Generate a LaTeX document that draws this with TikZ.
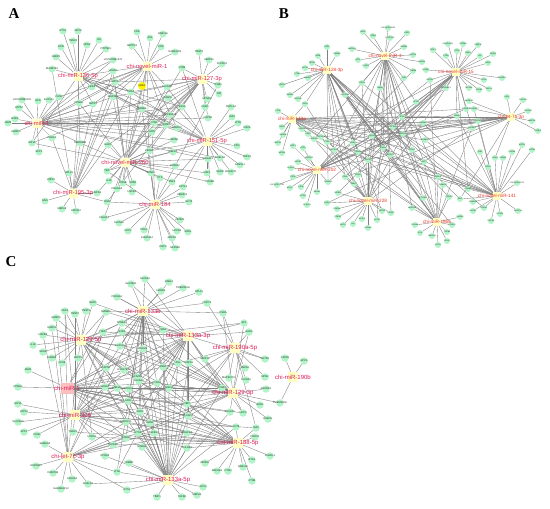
\documentclass[tikz,border=0pt]{standalone}
\usepackage{fontspec}
\setmainfont{Liberation Serif}
\setsansfont{Liberation Sans}
\pgfdeclarelayer{links}
\pgfsetlayers{links,main}
\definecolor{genefill}{RGB}{176,245,200}
\definecolor{hubfill}{RGB}{255,255,196}
\definecolor{hubpink}{RGB}{255,190,190}
\definecolor{mirA}{RGB}{226,34,88}
\definecolor{mirB}{RGB}{238,56,40}
\definecolor{mirC}{RGB}{222,24,86}
\tikzset{
  gene/.style={circle,fill=genefill,inner sep=0pt,minimum size=#1},
  gene/.default=7pt,
  gtext/.style={font=\sffamily\fontsize{#1}{#1}\selectfont,text=black!85,inner sep=0pt},
  gtext/.default=2.6,
  hub/.style={rectangle,fill=hubfill,inner sep=0pt,minimum size=#1},
  hub/.default=9pt,
  hubtext/.style={font=\sffamily\fontsize{#1}{#1}\selectfont,inner sep=0pt},
  link/.style={draw=black!50,line width=0.35pt},
  panel/.style={font=\rmfamily\bfseries\fontsize{15}{15}\selectfont,inner sep=0pt}
}
% target genes: name/x/y/hub/label
\def\genesA{ga1/63/31/a136/ETS1, ga2/78/31/a136/GPX4, ga3/73/41/a136/TNNC2,
	ga4/87/45/a136/NPR2, ga5/99/40/a136/IL6, ga6/106/49/a136/PITPNC1, ga7/61/47/a136/DCN,
	ga8/56/57/a136/FABP3, ga9/113/60/a136/LOC100861279, ga10/52/69/a136/RHOBTB1,
	ga11/113/71/a136/VEGFA, ga12/115/82/a136/MZT1, ga13/92/87/a136/HFE2,
	ga14/79/103/a136/PPARG, ga15/93/104/a136/SEPP1,
	ga16/137/32/anov1/FOS, ga17/150/38/anov1/ASL, ga18/163/34/anov1/RAB11A,
	ga19/161/47/anov1/CD9, ga20/132/46/anov1/ARPP19, ga21/175/52/anov1/RABGGTB,
	ga23/131/92/anov1/PDK4, ga24/167/87/anov1/SLC6A6, ga25/113/97/anov1/MAP3K1,
	ga26/142/109/anov1/MANBA,
	ga27/199/52/a127/TNNT3, ga28/209/60/a127/MMP14, ga29/222/64/a127/PLCXD2,
	ga30/182/68/a127/CTSB, ga31/218/85/a127/ITGB1, ga32/219/94/a127/GPI,
	ga33/207/99/a127/MFGE8, ga34/168/98/a127/ROBO1, ga35/182/107/a127/SOX6,
	ga36/205/107/a127/FASN, ga37/170/115/a127/SLC39A13, ga38/208/118/a127/CAPN1,
	ga39/22/100/a1/LOC100860191, ga40/19/108/a1/ATP5J, ga41/38/101/a1/SCD,
	ga42/49/100/a1/ELOVL1, ga43/59/97/a1/PLIN3, ga44/15/119/a1/RXRA, ga45/8/123/a1/JAM2,
	ga46/16/132/a1/IGFBP3, ga47/32/143/a1/HIF1A, ga48/52/138/a1/PDE1A,
	ga49/39/152/a1/SPP1, ga50/80/143/a1/TMEM38B,
	ga51/231/107/a151/PNPLA2, ga52/232/117/a151/IGF2, ga53/238/123/a151/LTN1,
	ga54/247/128/a151/KIF2A, ga55/237/146/a151/PID1, ga56/247/157/a151/ZNF24,
	ga57/240/165/a151/KANSL1, ga58/231/172/a151/B3GALT1, ga59/220/172/a151/SDHD,
	ga60/220/158/a151/DCBLD2, ga61/208/159/a151/SRGAP1, ga62/207/173/a151/HSF1,
	ga63/210/182/a151/FOXM1, ga64/154/123/a151/CTSK, ga65/177/128/a151/MARK3,
	ga66/166/125/a151/IQCB1,
	ga67/174/140/anov260/HSPA8, ga68/152/132/anov260/SON, ga69/108/145/anov260/GART,
	ga70/149/151/anov260/CIDEA, ga71/173/152/anov260/MEF2A, ga72/175/166/anov260/ROBO2,
	ga73/107/171/anov260/TBP, ga74/109/181/anov260/IL18, ga75/117/189/anov260/PRKAG3,
	ga76/123/183/anov260/KIF5B, ga77/133/183/anov260/LTBR, ga78/132/192/anov260/HSPB1,
	ga79/151/173/anov260/SPARC,
	ga80/69/173/a195/RPL21, ga81/51/180/a195/USP10, ga82/45/201/a195/GNS,
	ga83/62/209/a195/MED18, ga84/76/211/a195/HSPA13, ga85/97/193/a195/HSPG2,
	ga86/107/202/a195/OGN,
	ga87/160/178/a184/PTS, ga88/172/182/a184/ZNF3, ga89/183/187/a184/EXTL3,
	ga90/182/195/a184/UBE2D3, ga91/189/202/a184/ECT2, ga92/104/218/a184/COL6A1,
	ga93/119/223/a184/SLC5A6, ga94/128/231/a184/UCP2, ga95/144/230/a184/POLG,
	ga96/147/238/a184/KIAA1524, ga97/180/220/a184/ZBTB11, ga98/177/231/a184/UPK1B,
	ga99/188/232/a184/SOD1, ga100/172/238/a184/ABCD1, ga101/163/247/a184/PHC3,
	ga102/175/248/a184/GPR180}
\def\genesB{gb1/363/32/bnov4/LMO7, gb2/373/36/bnov4/ITGB5,
	gb3/388/28/bnov4/LOC102190008, gb4/390/38/bnov4/PPP1R3C, gb5/407/33/bnov4/USP2,
	gb6/404/47/bnov4/HMGB1, gb7/352/49/bnov4/MAP4K4, gb8/358/60/bnov4/IGF1,
	gb9/366/66/bnov4/PLOD3, gb10/413/55/bnov4/NUDT4, gb11/422/62/bnov4/RAB1A,
	gb12/413/71/bnov4/TUBB6, gb13/380/88/bnov4/GNB4, gb14/362/83/bnov4/SPRY1,
	gb15/404/78/bnov4/TLN2,
	gb16/327/47/b128/FZD1, gb17/337/54/b128/KDM5B, gb18/318/56/b128/NFIB,
	gb19/312/63/b128/TBX15, gb20/305/68/b128/KLF15, gb21/297/74/b128/CTSB,
	gb22/308/78/b128/NAMPT, gb23/282/85/b128/VEGFA, gb24/290/95/b128/SMAD6,
	gb25/298/99/b128/FBXO32, gb26/305/104/b128/CNN1, gb27/345/95/b128/SLC25A4,
	gb29/448/44/bnov15/ARHGAP11, gb30/463/44/bnov15/ATP2B1, gb31/478/45/bnov15/CEBPB,
	gb32/433/50/bnov15/GPX1, gb33/446/56/bnov15/PTEN, gb34/457/51/bnov15/ETV5,
	gb35/468/53/bnov15/NEK6, gb36/480/56/bnov15/LPL, gb37/493/54/bnov15/P4HA2,
	gb38/488/63/bnov15/DDX5, gb39/426/70/bnov15/RUNX1, gb40/430/80/bnov15/NCOA2,
	gb41/446/88/bnov15/EIF4EBP1, gb42/469/88/bnov15/MYO5A, gb43/479/90/bnov15/SPSB4,
	gb44/489/89/bnov15/RELL1, gb45/484/80/bnov15/BTLA, gb46/502/78/bnov15/TXNRD1,
	gb47/507/97/blet7a/IDH1, gb48/523/100/blet7a/COL4A1, gb49/528/111/blet7a/PDLIM1,
	gb50/532/121/blet7a/MRPS6, gb51/538/131/blet7a/TRIM71, gb52/469/101/blet7a/MAN1A2,
	gb53/474/109/blet7a/ARHGEF7, gb54/478/121/blet7a/GATM,
	gb55/278/111/b148/CTSK, gb56/282/127/b148/TNNT1, gb57/283/135/b148/HADHB,
	gb58/278/143/b148/MEF2C, gb59/282/153/b148/NDRG1, gb60/302/129/b148/ESRRG,
	gb61/308/134/b148/CDK6, gb62/314/139/b148/CSNK2A1, gb63/321/137/b148/PPP2CA,
	gb64/327/142/b148/CTGF,
	gb65/293/146/bnov202/SIRT1, gb66/303/148/bnov202/ATF4, gb67/334/150/bnov202/SLC2A1,
	gb68/309/158/bnov202/ARRDC3, gb69/298/162/bnov202/HSPB7, gb70/291/168/bnov202/KLHL40,
	gb71/293/177/bnov202/CD36, gb72/277/185/bnov202/LOC102179781, gb73/290/188/bnov202/MYH7,
	gb74/301/187/bnov202/CD34, gb75/303/196/bnov202/ACTA1, gb76/307/205/bnov202/KLHL41,
	gb77/317/192/bnov202/NR4A1, gb78/328/182/bnov202/PRKAB1,
	gb79/327/203/bnov228/FASN, gb80/337/209/bnov228/PPARA, gb81/338/217/bnov228/PDE4D,
	gb82/343/225/bnov228/MYF6, gb83/353/224/bnov228/IL6, gb84/362/219/bnov228/ACSL1,
	gb85/368/228/bnov228/HOXA9, gb86/377/220/bnov228/KLF10, gb87/382/211/bnov228/SFRP1,
	gb88/391/213/bnov228/FOXO1, gb89/345/177/bnov228/CD44, gb90/354/184/bnov228/BMP2,
	gb91/358/175/bnov228/ENO3, gb92/338/193/bnov228/IGFBP5,
	gb93/438/177/b186/TAGLN, gb94/443/185/b186/CAMK2D, gb95/449/197/b186/ATP1A2,
	gb96/423/198/b186/PTGS2, gb97/412/208/b186/MAP2K6, gb98/415/225/b186/EPHA4,
	gb99/420/233/b186/IL18, gb100/432/236/b186/HMGCR, gb101/447/232/b186/TGFB3,
	gb102/452/225/b186/FOXO3, gb103/447/241/b186/CDH2, gb104/438/245/b186/GCH1,
	gb105/460/217/b186/SMAD4,
	gb106/468/189/bnov141/CREB3, gb107/460/199/bnov141/SIK1, gb108/473/202/bnov141/ADAM10,
	gb109/473/211/bnov141/ACVR1, gb110/484/208/bnov141/EGLN1, gb111/491/221/bnov141/CAPN3,
	gb112/500/214/bnov141/FOXP1, gb113/518/211/bnov141/MAPK14,
	gb114/517/183/bnov141/LOC102180274, gb115/512/152/bnov141/FOXN3,
	gb116/522/145/bnov141/NFAT5, gb117/532/150/bnov141/KIF5B, gb118/495/158/bnov141/LDHA,
	gb119/503/158/bnov141/CAMK1, gb120/488/167/bnov141/GPD1,
	gb121/372/136/b148/RHOA, gb122/393/127/bnov4/ACTN2, gb123/403/134/bnov15/MSTN,
	gb124/412/150/b186/ITGA5, gb125/390/155/b128/PRKACA, gb126/358/152/b128/CEBPA,
	gb127/368/160/bnov228/SOCS3, gb128/402/117/bnov4/TCF4, gb129/416/102/bnov4/SCD5,
	gb130/423/123/blet7a/HMGA2, gb131/457/116/bnov15/NRAS, gb132/466/109/bnov15/IGF2BP2,
	gb133/472/128/blet7a/DICER1, gb134/424/162/b186/AKT3, gb135/383/148/b148/ENAH,
	gb136/353/143/b148/KRAS, gb138/425/140/bnov141/TRIM63, gb139/480/152/bnov141/IRS1}
\def\genesC{gc1/131/284/c133b/SLC30A1, gc2/145/279/c133b/SLC2A4,
	gc3/169/282/c133b/RABL3, gc4/161/291/c133b/HAND2, gc5/183/288/c133b/TMEM161A,
	gc6/199/292/c133b/RPL21, gc7/117/297/c133b/PRKAG1, gc8/207/303/c133b/CNPY2,
	gc9/223/313/c133b/CSDA, gc10/163/330/c133b/FBN1, gc11/143/349/c133b/TAGLN,
	gc12/93/303/c1295/NAPG, gc13/106/312/c1295/MANBA, gc14/65/311/c1295/DKK1,
	gc15/75/314/c1295/TNNT2, gc16/86/311/c1295/TNNT3, gc17/56/318/c1295/IGFBP5,
	gc18/52/328/c1295/RAB7A, gc19/43/335/c1295/HSPB6, gc20/33/345/c1295/IL18,
	gc21/43/352/c1295/SDHD, gc22/52/358/c1295/RAB6A, gc23/62/363/c1295/CD36,
	gc24/78/358/c1295/SEPP1, gc25/103/332/c1295/TNNI3, gc26/122/323/c1295/SPRED1,
	gc27/122/332/c1295/RXRA, gc28/120/346/c1295/ELOVL5,
	gc29/244/323/c133a3/SP1, gc30/249/332/c190a/GAD2, gc31/178/363/c133a3/ASL,
	gc32/189/363/c133a3/USP10, gc33/205/359/c133a3/MMP14, gc34/163/367/c133a3/GNB1,
	gc35/157/383/c133a3/PTGS2, gc36/169/388/c133a3/CSNK1A1, gc37/137/377/c133a3/KCNJ11,
	gc38/245/368/c190a/HSPA2, gc39/229/378/c190a/MAP3K7CL, gc40/246/380/c190a/SLC9A3,
	gc41/265/359/c190a/SHTN1, gc42/265/377/c190a/NPR2, gc43/222/388/c1293/ITGB1,
	gc44/266/389/c1293/ANKRD1,
	gc45/285/358/c190b/CD209, gc46/304/361/c190b/GPC6, gc47/280/403/c190b/TMEM200A,
	gc48/230/412/c1293/SLC2A1, gc49/243/413/c1293/UCP3, gc50/260/405/c1293/GDE1,
	gc51/268/419/c1293/HMOX1, gc54/187/404/c1293/LTBP1,
	gc55/188/416/c1293/PLCXD2,
	gc56/236/427/c188/CCT8, gc57/256/428/c188/IGF2, gc58/255/437/c188/PROX1,
	gc59/270/456/c188/CHRDL1, gc60/252/460/c188/BTG1, gc61/243/467/c188/RAB11A,
	gc62/228/471/c188/CTSH, gc63/217/471/c188/MAN1B1, gc64/205/463/c188/ZBTB11,
	gc65/252/481/c188/CTSB, gc66/187/433/c188/PDGFRA, gc67/187/448/c188/PHLDB2,
	gc68/203/487/c133a5/GPX3, gc69/197/495/c133a5/MEF2A, gc70/182/497/c133a5/TGFB2,
	gc71/157/497/c133a5/TIMP1, gc72/127/490/c133a5/ETS1, gc73/117/472/c133a5/LTN1,
	gc74/129/463/c133a5/TOMM7, gc75/105/456/c133a5/KPNA2, gc76/142/447/c133a5/ROBO1,
	gc77/150/423/c133a5/AZIN1, gc78/140/412/c133a5/SOD2, gc79/154/433/c133a5/TGFB1I1,
	gc80/138/433/c133a5/ETS2, gc81/126/422/c206/SPECC1L, gc82/126/438/c206/ROBO2,
	gc83/18/387/c1/PPARG, gc84/28/370/c1/JAM2,
	gc85/18/404/c206/HIF1A, gc86/24/412/c206/ATP5J, gc87/18/422/c206/SLC25A4,
	gc88/24/432/c206/SPP1, gc89/37/435/c206/PLIN3, gc90/73/432/c206/TNNC1,
	gc91/45/444/clet7c/SEMA3A, gc92/92/437/c206/HTRA1, gc93/113/445/c206/SLC5A6,
	gc94/36/466/clet7c/HSP90B1, gc95/53/473/clet7c/DNMT3B, gc96/72/479/clet7c/COL6A3,
	gc97/88/484/clet7c/DCBLD2, gc98/61/489/clet7c/GABARAPL2,
	gc99/106/368/c1/CAPN1, gc100/124/370/c1/HSD17B12, gc101/105/387/c1/VEGFA,
	gc102/117/388/c1/MEF2D, gc103/129/389/c1/PDHA1, gc104/128/401/c1/SON,
	gc105/139/381/c1293/SLC6A6}
\begin{document}
\begin{tikzpicture}[x=1pt,y=-1pt]
	\useasboundingbox (0,0) rectangle (550,509);
	\begin{pgfonlayer}{links}
		\fill[white] (0,0) rectangle (550,509);
	\end{pgfonlayer}
	
	% Panel letters
	\node[panel] (labA) at (14,14) {A};
	\node[panel] (labB) at (284,14) {B};
	\node[panel] (labC) at (11,262) {C};
	
	% ---------------- Panel A ----------------
	\foreach \n/\x/\y/\h/\t in \genesA {
		\node[gene] (\n) at (\x,\y) {};
		\node[gtext] at (\n) {\t};
	}
	% highlighted target
	\node[gene=8pt,fill=yellow] (ga22) at (142,86) {};
	\node[gtext] at (ga22) {NAB1};
	
	% miRNA hubs
	\foreach \n/\x/\y/\t in {a136/78/76/chi-miR-136-5p, anov1/147/66/chi-novel-miR-1,
		a127/202/79/chi-miR-127-3p, a1/37/123/chi-miR-1, a151/207/141/chi-miR-151-5p,
		anov260/125/162/chi-novel-miR-260, a195/73/193/chi-miR-195-3p, a184/155/204/chi-miR-184}{
		\node[hub] (\n) at (\x,\y) {};
		\node[hubtext=5.8,text=mirA] at (\n) {\t};
	}
	
	% links
	\begin{pgfonlayer}{links}
	\foreach \n/\x/\y/\h/\t in \genesA
		\draw[link] (\h) -- (\n);
	\draw[link] (anov1) -- (ga22);
	\foreach \h/\g in {a1/ga11, a1/ga12, a1/ga15, a1/ga25, a1/ga26, a1/ga34, a1/ga35, a1/ga37,
		a1/ga38, a1/ga64, a1/ga65, a1/ga66, a1/ga67, a1/ga68, a1/ga61, a1/ga60, a1/ga9, a1/ga14,
		anov260/ga14, anov260/ga11, anov260/ga25, anov260/ga22, anov260/ga23, anov260/ga24,
		anov260/ga30, anov260/ga34, anov260/ga47, anov260/ga50, anov260/ga87, anov260/ga88,
		anov260/ga92, anov260/ga85, anov260/ga61, anov260/ga62, anov260/ga63, anov260/ga26,
		anov260/ga12, anov260/ga37,
		a195/ga14, a195/ga15, a195/ga10, a195/ga25, a195/ga12, a195/ga48, a195/ga50,
		a195/ga69, a195/ga11, a195/ga23,
		a184/ga70, a184/ga26, a184/ga79, a184/ga73, a184/ga86, a184/ga31, a184/ga68,
		a127/ga12, a127/ga25, a127/ga23, a127/ga68, a127/ga64, a127/ga69, a127/ga47,
		a127/ga73, a127/ga86, a127/ga70,
		a136/ga23, a136/ga26, a136/ga37, a136/ga35, a136/ga65, a136/ga66, a136/ga47, a136/ga50,
		a151/ga26, a151/ga34, a151/ga30, a151/ga70, a151/ga73, a151/ga88, a151/ga89,
		a151/ga24, a151/ga12,
		anov1/ga14, anov1/ga15, anov1/ga43, anov1/ga13, anov1/ga65, anov1/ga66, anov1/ga70,
		anov1/ga76, anov1/ga12, anov1/ga11}
		\draw[link] (\h) -- (\g);
	\end{pgfonlayer}
	
	% ---------------- Panel B ----------------
	\foreach \n/\x/\y/\h/\t in \genesB {
		\node[gene=6pt] (\n) at (\x,\y) {};
		\node[gtext=2] at (\n) {\t};
	}
	\foreach \n/\x/\y/\t in {b128/327/70/chi-miR-128-3p, bnov4/385/56/chi-novel-miR-4,
		bnov15/456/72/chi-novel-miR-15, blet7a/511/117/chi-let-7a-3p, b148/292/119/chi-miR-148a,
		bnov202/317/170/chi-novel-miR-202, bnov228/368/201/chi-novel-miR-228,
		b186/437/222/chi-miR-186a, bnov141/497/196/chi-novel-miR-141}{
		\node[hub=7.5pt] (\n) at (\x,\y) {};
		\node[hubtext=4.7,text=mirB] at (\n) {\t};
	}
	\begin{pgfonlayer}{links}
	\foreach \n/\x/\y/\h/\t in \genesB
		\draw[link] (\h) -- (\n);
	\foreach \h/\g in {b128/gb121, b128/gb125, b128/gb126, b128/gb136, b128/gb135, b128/gb110,
		b128/gb106, b128/gb107, b128/gb95, b128/gb96, b128/gb89, b128/gb90, b128/gb67,
		b128/gb78, b128/gb102, b128/gb124, b128/gb134, b128/gb87,
		bnov4/gb135, bnov4/gb121, bnov4/gb125, bnov4/gb127, bnov4/gb124, bnov4/gb134,
		bnov4/gb96, bnov4/gb97, bnov4/gb93, bnov4/gb88, bnov4/gb86, bnov4/gb136, bnov4/gb67,
		bnov4/gb62,
		bnov15/gb128, bnov15/gb129, bnov15/gb130, bnov15/gb122, bnov15/gb133, bnov15/gb121,
		bnov15/gb127, bnov15/gb89, bnov15/gb78, bnov15/gb92, bnov15/gb106, bnov15/gb64,
		blet7a/gb63, blet7a/gb64, blet7a/gb60, blet7a/gb136, blet7a/gb121, blet7a/gb122,
		blet7a/gb128, blet7a/gb123, blet7a/gb138, blet7a/gb89, blet7a/gb79, blet7a/gb107,
		blet7a/gb118,
		b148/gb130, b148/gb131, b148/gb132, b148/gb133, b148/gb123, b148/gb128, b148/gb122,
		b148/gb124, b148/gb127, b148/gb138, b148/gb26,
		bnov202/gb121, bnov202/gb136, bnov202/gb122, bnov202/gb123, bnov202/gb131,
		bnov202/gb132, bnov202/gb126, bnov202/gb125, bnov202/gb40, bnov202/gb41, bnov202/gb12,
		bnov228/gb14, bnov228/gb13, bnov228/gb121, bnov228/gb122, bnov228/gb136,
		bnov228/gb135, bnov228/gb26, bnov228/gb62, bnov228/gb63, bnov228/gb123,
		bnov228/gb130, bnov228/gb133,
		b186/gb126, b186/gb125, b186/gb135, b186/gb121, b186/gb27, b186/gb13, b186/gb40,
		b186/gb62, b186/gb64, b186/gb133,
		bnov141/gb136, bnov141/gb135, bnov141/gb125, bnov141/gb126, bnov141/gb121,
		bnov141/gb27, bnov141/gb14, bnov141/gb64, bnov141/gb67, bnov141/gb130,
		bnov141/gb131, bnov141/gb53, bnov141/gb54}
		\draw[link] (\h) -- (\g);
	\end{pgfonlayer}
	
	% ---------------- Panel C ----------------
	\foreach \n/\x/\y/\h/\t in \genesC {
		\node[gene=7.5pt] (\n) at (\x,\y) {};
		\node[gtext=2.6] at (\n) {\t};
	}
	\foreach \n/\x/\y/\t in {c133b/143/311/chi-miR-133b, c1295/81/340/chi-miR-129-5p,
		c133a3/188/336/chi-miR-133a-3p, c190a/235/348/chi-miR-190a-5p, c190b/293/377/chi-miR-190b,
		c1293/233/393/chi-miR-129-3p, c206/75/415/chi-miR-206, c188/238/443/chi-miR-188-5p,
		clet7c/68/457/chi-let-7c-3p, c133a5/168/480/chi-miR-133a-5p}{
		\node[hub=10pt] (\n) at (\x,\y) {};
		\node[hubtext=6,text=mirC] at (\n) {\t};
	}
	\node[hub=11pt,minimum width=13pt,fill=hubpink] (c1) at (67,388) {};
	\node[hubtext=6,text=mirC] at (c1) {chi-miR-1};
	\begin{pgfonlayer}{links}
	\foreach \n/\x/\y/\h/\t in \genesC
		\draw[link] (\h) -- (\n);
	\foreach \h/\g in {c133b/gc25, c133b/gc26, c133b/gc27, c133b/gc28, c133b/gc31, c133b/gc34,
		c133b/gc13, c133b/gc99, c133b/gc100, c133b/gc101, c133b/gc104, c133b/gc105,
		c133b/gc78, c133b/gc79, c133b/gc82, c133b/gc80, c133b/gc35, c133b/gc36, c133b/gc73,
		c1295/gc10, c1295/gc11, c1295/gc34, c1295/gc99, c1295/gc100, c1295/gc101,
		c1295/gc102, c1295/gc36, c1295/gc37, c1295/gc54, c1295/gc55, c1295/gc77,
		c1295/gc81, c1295/gc92, c1295/gc29,
		c133a3/gc1, c133a3/gc2, c133a3/gc7, c133a3/gc12, c133a3/gc13, c133a3/gc25,
		c133a3/gc26, c133a3/gc27, c133a3/gc28, c133a3/gc99, c133a3/gc100, c133a3/gc104,
		c133a3/gc105, c133a3/gc54, c133a3/gc55, c133a3/gc66, c133a3/gc43, c133a3/gc49,
		c133a3/gc78, c133a3/gc30, c133a3/gc41, c133a3/gc101, c133a3/gc73,
		c190a/gc8, c190a/gc9, c190a/gc33, c190a/gc34, c190a/gc55, c190a/gc54, c190a/gc36,
		c190a/gc57,
		c1/gc25, c1/gc11, c1/gc37, c1/gc34, c1/gc35, c1/gc36, c1/gc54, c1/gc55, c1/gc43,
		c1/gc48, c1/gc49, c1/gc66, c1/gc56, c1/gc77, c1/gc80, c1/gc82, c1/gc10, c1/gc13,
		c1293/gc10, c1293/gc11, c1293/gc31, c1293/gc32, c1293/gc33, c1293/gc34, c1293/gc36,
		c1293/gc35, c1293/gc101, c1293/gc102, c1293/gc104, c1293/gc77, c1293/gc80,
		c1293/gc26, c1293/gc27, c1293/gc28, c1293/gc9, c1293/gc29, c1293/gc30, c1293/gc47,
		c206/gc101, c206/gc102, c206/gc103, c206/gc104, c206/gc35, c206/gc36, c206/gc54,
		c206/gc56, c206/gc57, c206/gc66, c206/gc67, c206/gc99, c206/gc100, c206/gc78,
		c206/gc25, c206/gc26, c206/gc14, c206/gc15,
		c188/gc105, c188/gc103, c188/gc104, c188/gc81, c188/gc80, c188/gc82, c188/gc93,
		c188/gc78, c188/gc77, c188/gc79, c188/gc54, c188/gc55, c188/gc36, c188/gc34,
		c188/gc92, c188/gc90,
		clet7c/gc17, clet7c/gc18, clet7c/gc19, clet7c/gc24, clet7c/gc14, clet7c/gc99,
		clet7c/gc101, clet7c/gc82, clet7c/gc81, clet7c/gc93, clet7c/gc73, clet7c/gc72,
		clet7c/gc77, clet7c/gc79, clet7c/gc55, clet7c/gc66,
		c133a5/gc101, c133a5/gc102, c133a5/gc103, c133a5/gc104, c133a5/gc105, c133a5/gc35,
		c133a5/gc36, c133a5/gc34, c133a5/gc31, c133a5/gc32, c133a5/gc10, c133a5/gc11,
		c133a5/gc27, c133a5/gc54, c133a5/gc55, c133a5/gc66, c133a5/gc67, c133a5/gc56,
		c133a5/gc48, c133a5/gc43, c133a5/gc99, c133a5/gc97}
		\draw[link] (\h) -- (\g);
	\end{pgfonlayer}
\end{tikzpicture}
\end{document}
